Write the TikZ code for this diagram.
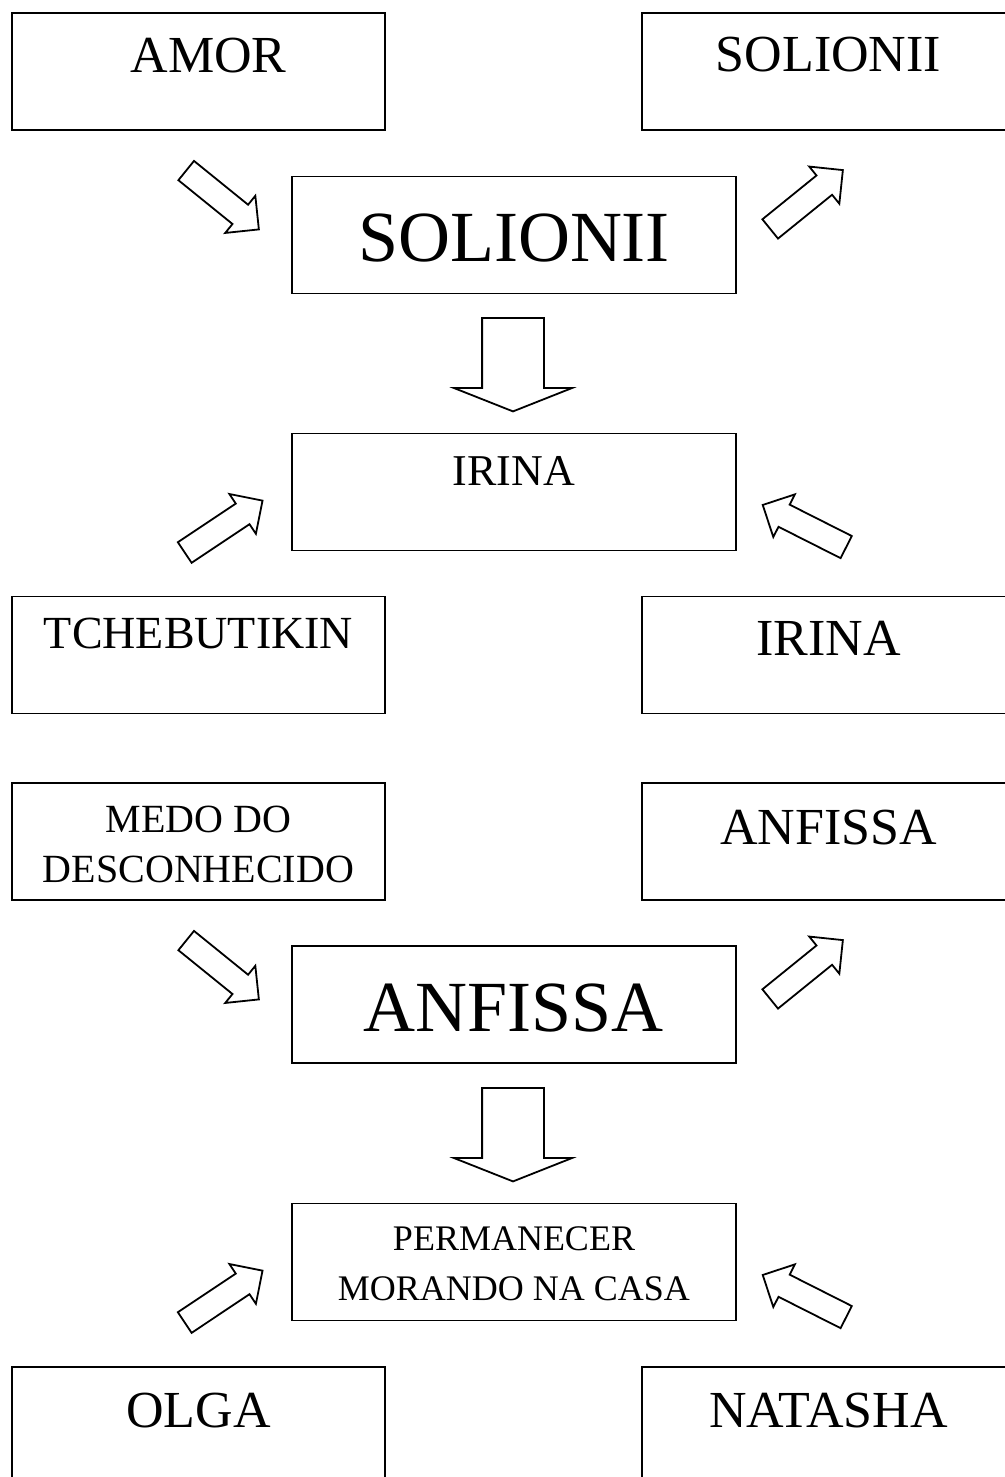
\documentclass[tikz,border=0pt]{standalone}
\usepackage{fontspec}
\setmainfont{Liberation Serif}
\usetikzlibrary{shapes.arrows}

\begin{document}
\begin{tikzpicture}[x=0.5pt, y=-0.5pt, line width=0.9pt,
		box/.style={draw, rectangle, minimum width=186.5pt, minimum height=58.5pt, inner sep=0pt},
		wide/.style={box, minimum width=222pt},
		txt/.style={anchor=base, align=center, inner sep=0pt, font=\fontsize{26}{31}\selectfont},
		bigtxt/.style={txt, font=\fontsize{36}{43}\selectfont},
		diag/.style={draw, single arrow, anchor=tail, inner xsep=0pt, inner ysep=5.75pt, minimum height=46.75pt, minimum width=23pt, single arrow head extend=5.75pt, single arrow tip angle=90},
		downarrow/.style={diag, inner ysep=15pt, minimum width=58pt, single arrow head extend=14pt, single arrow tip angle=136.8, rotate=-90}]
		\useasboundingbox (0,0) rectangle (1005,1477);

		\node[box, label={[txt, yshift=-30pt, xshift=5pt]north:AMOR}] (amor) at (198.5,71.5) {};
		\node[box, label={[txt, yshift=-29.5pt]north:SOLIONII}] (solR) at (828.5,71.5) {};
		\node[wide, label={[bigtxt, yshift=-43pt]north:SOLIONII}] (solionii) at (514,235) {};
		\node[wide, label={[txt, font=\fontsize{22}{26}\selectfont, yshift=-26.5pt]north:IRINA}] (irina) at (514,492) {};
		\node[box, label={[txt, font=\fontsize{23}{28}\selectfont, yshift=-26.5pt]north:TCHEBUTIKIN}] (tcheb) at (198.5,655) {};
		\node[box, label={[txt, yshift=-30pt]north:IRINA}] (irinaR) at (828.5,655) {};

		\node[box, label={[txt, font=\fontsize{20}{25}\selectfont, yshift=-50pt]north:MEDO DO\\DESCONHECIDO}] (medo) at (198.5,841.5) {};
		\node[box, label={[txt, yshift=-31pt]north:ANFISSA}] (anfR) at (828.5,841.5) {};
		\node[wide, label={[bigtxt, yshift=-43pt]north:ANFISSA}] (anfissa) at (514,1004.5) {};
		\node[wide, label={[txt, font=\fontsize{18}{25}\selectfont, yshift=-49pt]north:PERMANECER\\MORANDO NA CASA}] (perm) at (514,1262) {};
		\node[box, label={[txt, yshift=-30.5pt]north:OLGA}] (olga) at (198.5,1425.5) {};
		\node[box, label={[txt, yshift=-30.5pt]north:NATASHA}] (natasha) at (828.5,1425.5) {};

		% block arrows
		\node[diag, rotate=-39] (amor2sol) at (185.5,170) {};
		\node[diag, rotate=39] (sol2solR) at (769.5,229.5) {};
		\node[downarrow] (sol2irina) at (513,317) {};
		\node[diag, rotate=33.7] (tcheb2irina) at (184,553) {};
		\node[diag, rotate=153.2] (irinaR2irina) at (847,547.5) {};

		\node[diag, rotate=-39] (medo2anf) at (185.5,940) {};
		\node[diag, rotate=39] (anf2anfR) at (769.5,999.5) {};
		\node[downarrow] (anf2perm) at (513,1087) {};
		\node[diag, rotate=33.7] (olga2perm) at (184,1323) {};
		\node[diag, rotate=153.2] (natasha2perm) at (847,1317.5) {};
	\end{tikzpicture}
\end{document}
